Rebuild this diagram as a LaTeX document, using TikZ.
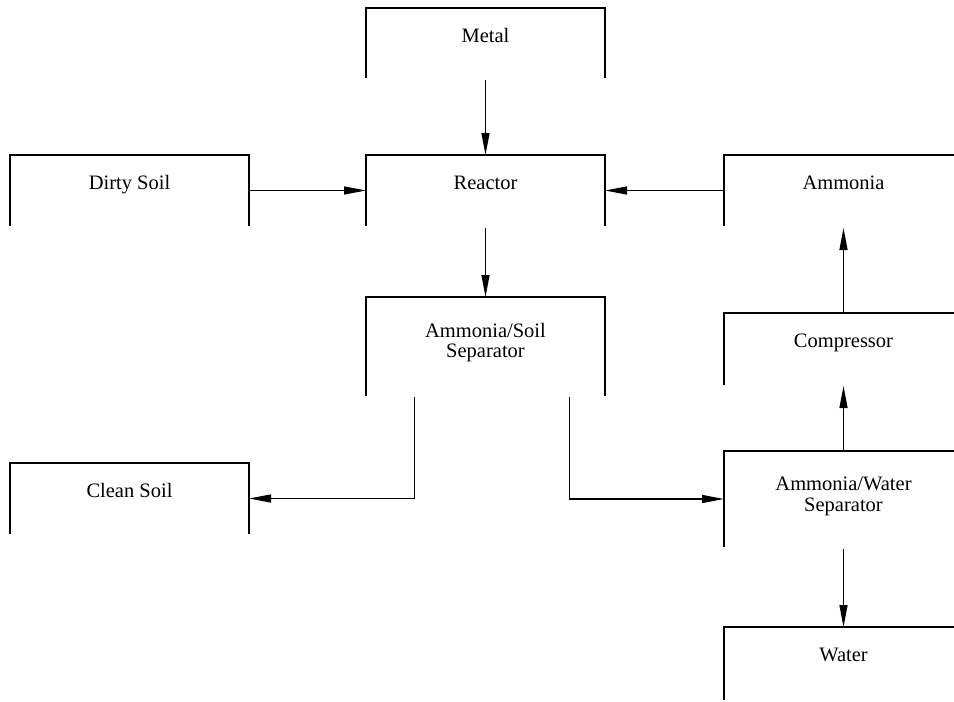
\documentclass[tikz,border=0pt]{standalone}
\usepackage{fontspec}
\setmainfont{Liberation Serif}
\usetikzlibrary{arrows.meta}
\begin{document}
\begin{tikzpicture}[x=1pt,y=-1pt,
  procbox/.style={minimum width=239pt, minimum height=#1, inner sep=0pt, outer sep=0pt, anchor=north},
  btxt/.style={anchor=north, align=center, inner sep=0pt, font=\fontsize{20.5}{20}\selectfont, yshift=-20.5pt},
  btxtas/.style={btxt, font=\fontsize{20.5}{20}\selectfont, yshift=-6pt},
  btxtaw/.style={btxt, font=\fontsize{20.5}{21.5}\selectfont, yshift=-5pt},
  flow/.style={line width=1.3pt, -{Triangle[length=22pt,width=8pt]}},
  frame/.style={line width=1.3pt}]
\useasboundingbox (0,0) rectangle (954,702);
\fill[white] (0,0) rectangle (954,702);
\node[procbox=70pt, label={[btxt]north:Metal}] (metal) at (485.5,8) {};
\node[procbox=71pt, label={[btxt]north:Reactor}] (reactor) at (485.5,155) {};
\node[procbox=71pt, label={[btxt]north:Dirty Soil}] (dirty) at (129.5,155) {};
\node[procbox=71pt, label={[btxt]north:Ammonia}] (ammonia) at (843.5,155) {};
\node[procbox=99pt, label={[btxtas]north:Ammonia/Soil\\Separator}] (assep) at (485.5,297) {};
\node[procbox=72pt, label={[btxt]north:Compressor}] (compressor) at (843.5,313) {};
\node[procbox=96pt, label={[btxtaw]north:Ammonia/Water\\Separator}] (awsep) at (843.5,451) {};
\node[procbox=71pt, label={[btxt]north:Clean Soil}] (cleansoil) at (129.5,463) {};
\node[procbox=73pt, label={[btxt]north:Water}] (water) at (843.5,627) {};
\foreach \n in {metal,reactor,dirty,ammonia,assep,compressor,awsep,cleansoil,water}
  \draw[frame] (\n.south west) -- (\n.north west) -- (\n.north east) -- (\n.south east);
\draw[flow] ([yshift=-2pt]metal.south) -- (reactor.north);
\draw[flow] (dirty.east) -- (reactor.west);
\draw[flow] (ammonia.west) -- (reactor.east);
\draw[flow] ([yshift=-2pt]reactor.south) -- (assep.north);
\draw[flow] ([xshift=-71pt,yshift=-1pt]assep.south) |- (cleansoil.east);
\draw[flow] ([xshift=84pt,yshift=-1pt]assep.south) |- (awsep.west);
\draw[flow] (awsep.north) -- ([yshift=-1pt]compressor.south);
\draw[flow] (compressor.north) -- ([yshift=-2pt]ammonia.south);
\draw[flow] ([yshift=-2pt]awsep.south) -- (water.north);
\end{tikzpicture}
\end{document}
